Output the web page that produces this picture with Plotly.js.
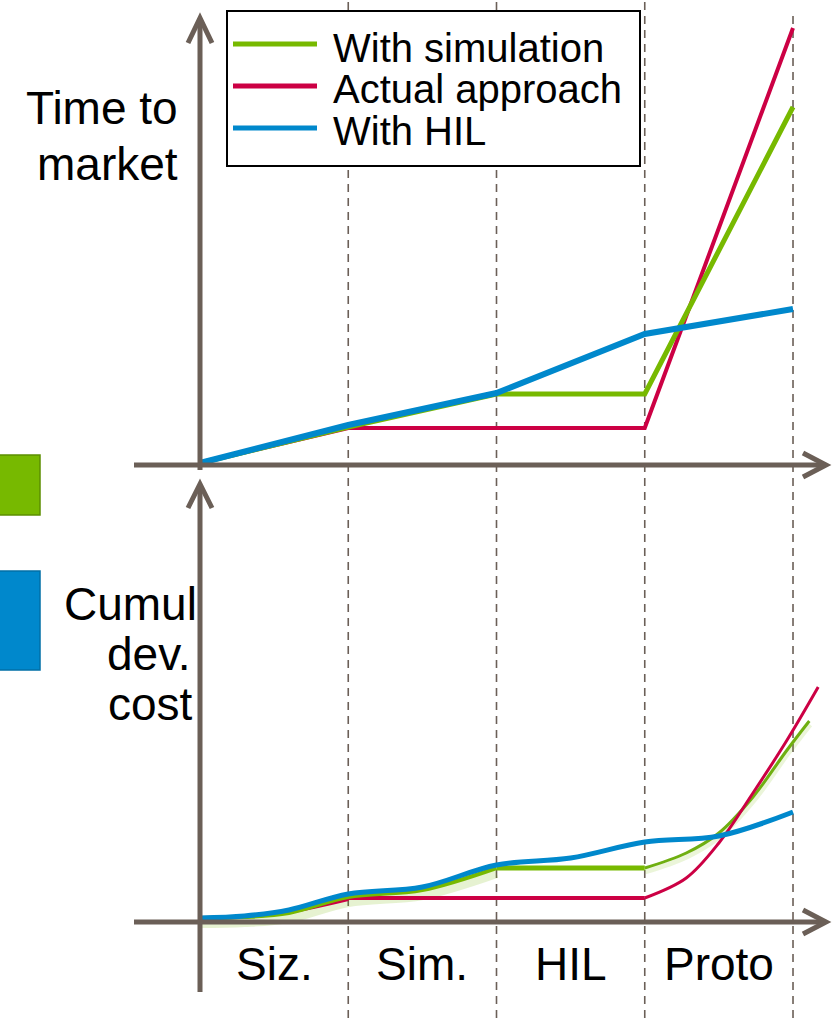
<!DOCTYPE html>
<html>
<head>
<meta charset="utf-8">
<script src="https://cdn.plot.ly/plotly-3.0.1.min.js"></script>
<style>html,body{margin:0;padding:0;background:#fff;}#chart{width:836px;height:1018px;}</style>
</head>
<body>
<div id="chart"></div>
<script>
// ---------- data ----------
const phaseBounds = [0, 1, 2, 3, 4];
const phaseCenters = [0.5, 1.5, 2.5, 3.5];
const phaseLabels = ["Siz.", "Sim.", "HIL", "Proto"];
const seriesNames = ["With simulation", "Actual approach", "With HIL"];

// Time to market (top panel)
const timeSim    = [0, 3.6, 6.9, 6.9, 35.6];
const timeActual = [0, 3.5, 3.5, 3.5, 43.5];
const timeHIL    = [0, 3.8, 7.0, 12.9, 15.4];

// Cumulative development cost (bottom panel)
const costSimX1 = [0, 0.3, 0.6, 1, 1.5, 2];
const costSimY1 = [0.2, 0.3, 0.7, 2.3, 3.0, 5.2];
const costSimX2 = [2, 3];
const costSimY2 = [5.2, 5.2];
const costSimX3 = [3, 3.28, 3.5, 3.73, 3.96, 4.11];
const costSimY3 = [5.2, 6.7, 8.7, 12.3, 17.0, 19.9];

const costActX1 = [0, 0.5, 1];
const costActY1 = [0.2, 0.6, 2.1];
const costActX2 = [1, 3];
const costActY2 = [2.2, 2.2];
const costActX3 = [3, 3.28, 3.5, 3.73, 3.96, 4.17];
const costActY3 = [2.2, 4.2, 7.7, 12.7, 18.0, 23.3];

const costHILX = [0, 0.3, 0.6, 1, 1.5, 2, 2.5, 3, 3.5, 4];
const costHILY = [0.2, 0.4, 1.0, 2.6, 3.3, 5.5, 6.2, 7.8, 8.4, 10.8];

// ---------- styling ----------
const GREEN = "#77B900", RED = "#CC0044", BLUE = "#0088CC", AXIS = "#6B5F57";
const FONT = "Liberation Sans, Arial, sans-serif";
const W = 836, H = 1018;
const PX = x => x / W;
const PY = y => 1 - y / H;

const traces = [
  // top
  {x: phaseBounds, y: timeActual, xaxis: "x", yaxis: "y", mode: "lines", line: {color: RED, width: 4}, name: seriesNames[1]},
  {x: phaseBounds, y: timeSim, xaxis: "x", yaxis: "y", mode: "lines", line: {color: GREEN, width: 5}, name: seriesNames[0]},
  {x: phaseBounds, y: timeHIL, xaxis: "x", yaxis: "y", mode: "lines", line: {color: BLUE, width: 6}, name: seriesNames[2]},
  // bottom: shadows
  {x: costSimX1, y: costSimY1.map(v => v - 0.5), xaxis: "x", yaxis: "y2", mode: "lines", line: {color: "rgba(119,185,0,0.18)", width: 10, shape: "spline"}, hoverinfo: "skip"},
  {x: costSimX3, y: costSimY3.map(v => v - 0.3), xaxis: "x", yaxis: "y2", mode: "lines", line: {color: "rgba(119,185,0,0.15)", width: 7, shape: "spline"}, hoverinfo: "skip"},
  // actual approach
  {x: costActX1, y: costActY1, xaxis: "x", yaxis: "y2", mode: "lines", line: {color: RED, width: 4, shape: "spline"}},
  {x: costActX2, y: costActY2, xaxis: "x", yaxis: "y2", mode: "lines", line: {color: RED, width: 4}},
  // with simulation
  {x: costSimX1, y: costSimY1, xaxis: "x", yaxis: "y2", mode: "lines", line: {color: GREEN, width: 4, shape: "spline"}},
  {x: costSimX2, y: costSimY2, xaxis: "x", yaxis: "y2", mode: "lines", line: {color: GREEN, width: 5}},
  {x: costSimX3, y: costSimY3, xaxis: "x", yaxis: "y2", mode: "lines", line: {color: "#6FAF10", width: 3, shape: "spline"}},
  {x: costActX3, y: costActY3, xaxis: "x", yaxis: "y2", mode: "lines", line: {color: RED, width: 3, shape: "spline"}},
  // with HIL
  {x: costHILX, y: costHILY, xaxis: "x", yaxis: "y2", mode: "lines", line: {color: BLUE, width: 5, shape: "spline"}}
];

const shapes = [];
// dashed phase boundaries
phaseBounds.slice(1).forEach((b, i) => {
  shapes.push({type: "line", xref: "x", yref: "paper", x0: b, x1: b, y0: 0, y1: i === 3 ? PY(14) : 1,
    line: {color: AXIS, width: 1.6, dash: "8px,6px"}, layer: "below"});
});
// legend box
shapes.push({type: "rect", xref: "paper", yref: "paper", x0: PX(227), x1: PX(640), y0: PY(166), y1: PY(11),
  fillcolor: "#ffffff", line: {color: "#000000", width: 2}, layer: "above"});
[GREEN, RED, BLUE].forEach((c, i) => {
  const yy = [44, 86, 128][i];
  shapes.push({type: "line", xref: "paper", yref: "paper", x0: PX(233), x1: PX(317), y0: PY(yy), y1: PY(yy),
    line: {color: c, width: 5}, layer: "above"});
});
// axes
function seg(x0, y0, x1, y1) {
  shapes.push({type: "line", xref: "paper", yref: "paper", x0: PX(x0), x1: PX(x1), y0: PY(y0), y1: PY(y1),
    line: {color: AXIS, width: 5}, layer: "above"});
}
function path(pts) {
  const d = pts.map((p, i) => (i ? "L" : "M") + PX(p[0]) + "," + PY(p[1])).join(" ");
  shapes.push({type: "path", xref: "paper", yref: "paper", path: d, line: {color: AXIS, width: 5}, layer: "above"});
}
// top axes
seg(200, 470, 200, 19);
path([[188, 43], [200, 18], [212, 43]]);
seg(134, 465, 824, 465);
path([[803, 453], [826, 465], [803, 477]]);
// bottom axes
seg(200, 992, 200, 485);
path([[188, 508], [200, 484], [212, 508]]);
seg(134, 922, 824, 922);
path([[803, 910], [826, 922], [803, 934]]);
// left decorative blocks
shapes.push({type: "rect", xref: "paper", yref: "paper", x0: PX(-2), x1: PX(40), y0: PY(515), y1: PY(455),
  fillcolor: GREEN, line: {color: "#5C8F00", width: 1.5}, layer: "above"});
shapes.push({type: "rect", xref: "paper", yref: "paper", x0: PX(-2), x1: PX(40), y0: PY(670), y1: PY(571),
  fillcolor: BLUE, line: {color: "#006FA6", width: 1.5}, layer: "above"});

const annotations = [];
function txt(text, x, y, size, anchor) {
  annotations.push({text: text, xref: "paper", yref: "paper", x: PX(x), y: PY(y), xanchor: anchor, yanchor: "middle",
    showarrow: false, font: {family: FONT, size: size, color: "#000000"}});
}
// legend texts
seriesNames.forEach((n, i) => txt(n, 331, [48, 89, 131][i], 40, "left"));
// y labels
txt("Time to", 180, 108, 46, "right");
txt("market", 180, 164, 46, "right");
txt("Cumul", 199, 604, 46, "right");
txt("dev.", 193, 654, 46, "right");
txt("cost", 195, 704, 46, "right");
// phase labels
phaseLabels.forEach((l, i) => {
  annotations.push({text: l, xref: "x", yref: "paper", x: phaseCenters[i], y: PY(964), xanchor: "center", yanchor: "middle",
    showarrow: false, font: {family: FONT, size: 46, color: "#000000"}});
});

const layout = {
  width: W, height: H,
  margin: {l: 0, r: 0, t: 0, b: 0},
  paper_bgcolor: "#ffffff", plot_bgcolor: "#ffffff",
  showlegend: false,
  xaxis: {range: [-1.349, 4.290], visible: false, anchor: "y2"},
  yaxis: {domain: [1 - 480 / H, 1], range: [-1.7, 46.3], visible: false, anchor: "x"},
  yaxis2: {domain: [0, 1 - 480 / H], range: [-9.8, 44], visible: false, anchor: "x"},
  shapes: shapes,
  annotations: annotations
};

Plotly.newPlot("chart", traces, layout, {displayModeBar: false, staticPlot: true});
</script>
</body>
</html>
